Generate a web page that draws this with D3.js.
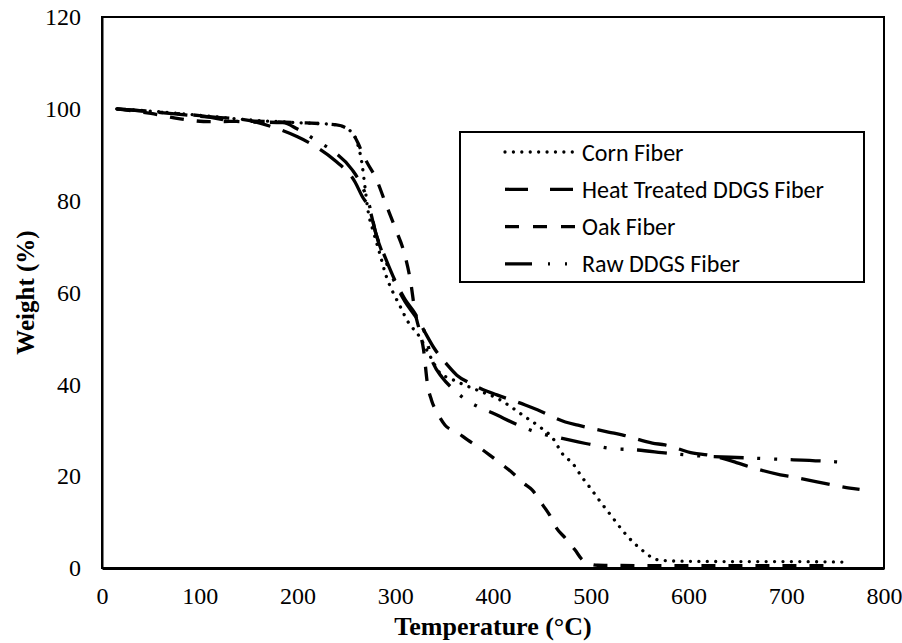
<!DOCTYPE html>
<html>
<head>
<meta charset="utf-8">
<script src="https://cdn.jsdelivr.net/npm/d3@7"></script>
<style>
  html, body { margin: 0; padding: 0; background: #fff; }
  svg { display: block; }
</style>
</head>
<body>
<svg id="chart" width="902" height="643"></svg>
<script>
// TGA curves, [temperature °C, weight %]
var cornFiber = [[15,100],[50,99.5],[100,98.6],[150,97.6],[200,97],[240,96.5],[255,95],[262,92],[266,88],[269,83],
  [272,78],[278,73],[284,68.6],[291,63.4],[298,59.9],[305,57],[312,54],[325,50.3],[336,46],[346,42.4],[356,41.3],
  [366,40.3],[389,38.3],[404,37],[419,35],[433,32.9],[448,30.7],[461,28.3],[472,24.6],[481,22.9],[491,19.8],
  [501,17],[511,14.1],[522,11.1],[532,8.3],[543,5.7],[556,3.3],[563,2.2],[571,1.7],[590,1.5],[650,1.4],[700,1.4],[757,1.3]];
var heatTreated = [[15,100],[50,99.4],[100,98.4],[150,97.5],[175,96],[200,93.9],[220,91.6],[238,88.8],[259,84],
  [266,81],[274,78],[280,73],[290,67.5],[300,62.5],[310,58.5],[320,55.5],[330,51.5],[340,47.8],[353,44.3],[363,42],
  [376,40.3],[390,38.8],[404,37.7],[433,35.5],[446,34.4],[474,31.8],[487,31.1],[518,29.6],[532,29],[563,27.2],
  [576,26.8],[605,25],[620,24.6],[650,22.9],[663,22],[694,20.3],[707,19.8],[738,18.5],[752,17.9],[765,17.4],[775,17.1]];
var oakFiber = [[15,100],[50,99],[80,97.8],[110,97.2],[150,97.3],[200,97],[240,96.5],[255,95],[262,92.5],[267,90],
  [272,88],[280,85],[290,79.5],[300,74],[310,68],[316,62],[320,56],[325,51.5],[329,47.5],[333,40],[337,36.6],
  [343,33.8],[351,31.1],[363,29.6],[374,27.9],[387,26.1],[399,24.2],[410,22.4],[420,20.7],[431,18.5],[440,17],
  [451,13.7],[458,11.5],[465,8.7],[474,6.5],[484,3.9],[492,1.7],[507,0.6],[600,0.5],[750,0.5]];
var rawDDGS = [[15,100],[50,99.4],[100,98.5],[141,97.2],[185,97],[200,95.6],[220,93],[235,91],[256,86.7],[264,84],
  [274,78.6],[280,73],[290,67],[300,62],[310,58],[320,55],[328,52.5],[339,44.5],[348,41.5],[358,39.2],[370,37],
  [385,35.1],[399,33.8],[426,31.1],[441,29.8],[469,28.3],[502,26.8],[518,26.1],[548,25.7],[579,25],[612,24.4],
  [658,24],[691,23.7],[737,23.3],[760,23]];

var seriesNames = ['Corn Fiber', 'Heat Treated DDGS Fiber', 'Oak Fiber', 'Raw DDGS Fiber'];
var xTicks = [0, 100, 200, 300, 400, 500, 600, 700, 800];
var yTicks = [0, 20, 40, 60, 80, 100, 120];

var series = [
  {name: seriesNames[0], values: cornFiber, dash: '0.01,8.4', legendDash: '0.01,8.4', cap: 'round'},
  {name: seriesNames[1], values: heatTreated, dash: '29,13', legendDash: '23,22', cap: 'butt'},
  {name: seriesNames[2], values: oakFiber, dash: '14,13', legendDash: '14,14', cap: 'butt'},
  {name: seriesNames[3], values: rawDDGS, dash: '30,13.5,3,14,3,13.5', legendDash: '27,16,2,15,2,30', cap: 'butt'}
];

var svg = d3.select('#chart');
var margin = {left: 102, right: 18, top: 17, bottom: 75};
var W = 902, H = 643;
var x = d3.scaleLinear().domain([0, 800]).range([margin.left, W - margin.right]);
var y = d3.scaleLinear().domain([0, 120]).range([H - margin.bottom, margin.top]);

var serif = '"Liberation Serif", "Times New Roman", serif';
var sans = 'Carlito, Calibri, Lato, "Open Sans", sans-serif';

// plot frame
svg.append('rect')
  .attr('x', x(0)).attr('y', y(120))
  .attr('width', x(800) - x(0)).attr('height', y(0) - y(120))
  .attr('fill', 'none').attr('stroke', '#000').attr('stroke-width', 2);

// axes: labels only, no tick marks
var xAxis = svg.append('g')
  .attr('transform', 'translate(0,' + y(0) + ')')
  .call(d3.axisBottom(x).tickValues(xTicks).tickSize(0).tickPadding(19));
var yAxis = svg.append('g')
  .attr('transform', 'translate(' + x(0) + ',0)')
  .call(d3.axisLeft(y).tickValues(yTicks).tickSize(0).tickPadding(21));
[xAxis, yAxis].forEach(function(a) {
  a.selectAll('text').attr('font-family', serif).attr('font-size', 24).attr('fill', '#000');
});
xAxis.select('.domain').attr('stroke', '#000').attr('stroke-width', 3);
yAxis.select('.domain').attr('stroke', '#000').attr('stroke-width', 2);

// axis titles
svg.append('text')
  .attr('x', (x(0) + x(800)) / 2).attr('y', 635)
  .attr('text-anchor', 'middle')
  .attr('font-family', serif).attr('font-weight', 'bold').attr('font-size', 26)
  .text('Temperature (°C)');
svg.append('text')
  .attr('transform', 'translate(34,' + ((y(0) + y(120)) / 2) + ') rotate(-90)')
  .attr('text-anchor', 'middle')
  .attr('font-family', serif).attr('font-weight', 'bold').attr('font-size', 25)
  .text('Weight (%)');

var line = d3.line()
  .x(function(d) { return x(d[0]); })
  .y(function(d) { return y(d[1]); })
  .curve(d3.curveMonotoneX);

svg.append('g').selectAll('path')
  .data(series)
  .join('path')
    .attr('d', function(d) { return line(d.values); })
    .attr('fill', 'none')
    .attr('stroke', '#000')
    .attr('stroke-width', 3.3)
    .attr('stroke-linecap', function(d) { return d.cap; })
    .attr('stroke-dasharray', function(d) { return d.dash; });

// legend
var legend = svg.append('g');
legend.append('rect')
  .attr('x', 460).attr('y', 132).attr('width', 404).attr('height', 150)
  .attr('fill', '#fff').attr('stroke', '#000').attr('stroke-width', 2);
var item = legend.selectAll('g.item')
  .data(series)
  .join('g')
    .attr('class', 'item')
    .attr('transform', function(d, i) { return 'translate(505,' + (152 + i * 37.3) + ')'; });
item.append('line')
  .attr('x1', 0).attr('x2', 70)
  .attr('stroke', '#000').attr('stroke-width', 3.3)
  .attr('stroke-linecap', function(d) { return d.cap; })
  .attr('stroke-dasharray', function(d) { return d.legendDash; });
var labels = item.append('text')
  .attr('x', 77).attr('y', 0)
  .attr('dominant-baseline', 'central')
  .attr('font-family', sans).attr('font-size', 21)
  .attr('fill', '#000')
  .text(function(d) { return d.name; });

// the longest entry spans about 242px in the picture; size the font to that
var longest = labels.filter(function(d, i) { return i === 1; }).node().getComputedTextLength();
labels.attr('font-size', (21 * 242 / longest).toFixed(2));
</script>
</body>
</html>
